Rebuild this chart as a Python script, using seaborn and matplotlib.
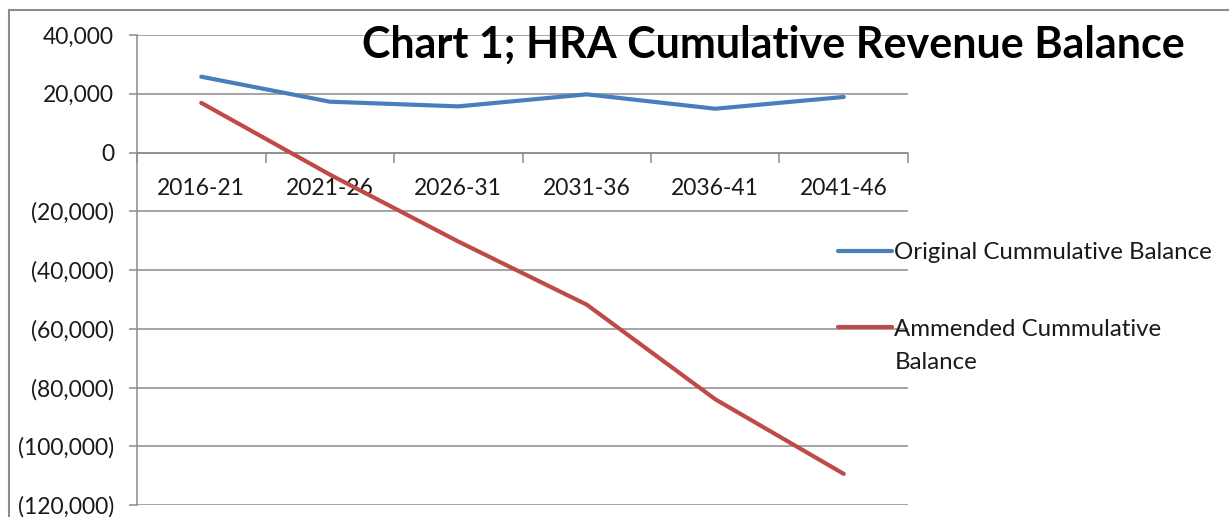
import numpy as np
import pandas as pd
import matplotlib
matplotlib.use("Agg")
import matplotlib.pyplot as plt
import matplotlib.patches as patches
from matplotlib.ticker import FuncFormatter, FixedLocator
import seaborn as sns

# data
periods = ["2016-21", "2021-26", "2026-31", "2031-36", "2036-41", "2041-46"]
original = [25800, 17300, 15700, 19800, 14900, 18900]
amended = [16900, -7500, -30300, -51800, -84000, -109400]
series_names = ["Original Cummulative Balance", "Ammended Cummulative\nBalance"]
yticks = list(range(-120000, 40001, 20000))

df = pd.DataFrame({
    "period": periods * 2,
    "pos": list(range(len(periods))) * 2,
    "value": original + amended,
    "series": [series_names[0]] * len(periods) + [series_names[1]] * len(periods),
})

sns.set_style("white")
plt.rcParams["font.family"] = ["Lato", "DejaVu Sans"]

fig = plt.figure(figsize=(12.29, 5.17), dpi=100)
ax = fig.add_axes([137 / 1229, 1 - 505 / 517, (908 - 137) / 1229, (505 - 35) / 517])

grid_c = "#8c8c8c"
for v in yticks:
    ax.axhline(v, color=grid_c, lw=1.1, zorder=0)

sns.lineplot(data=df, x="pos", y="value", hue="series",
             palette=["#4a7ebb", "#be4b48"], linewidth=3.0, ax=ax,
             legend=True, zorder=3)
for ln in ax.get_lines():
    ln.set_solid_capstyle("round")

ax.set_xlim(-0.5, len(periods) - 0.5)
ax.set_ylim(-120000, 40000)
ax.set_xlabel("")
ax.set_ylabel("")

# y axis
ax.yaxis.set_major_locator(FixedLocator(yticks))
ax.yaxis.set_major_formatter(FuncFormatter(
    lambda v, p: f"{v:,.0f}" if v >= 0 else f"({-v:,.0f})"))
ax.tick_params(axis="y", which="major", length=6, width=1.1, color=grid_c,
               pad=10.5, labelsize=16.5, labelcolor="#1a1a1a", left=True)

# x axis crossing at zero, ticks at category boundaries
for s in ["top", "right"]:
    ax.spines[s].set_visible(False)
ax.spines["left"].set_color(grid_c)
ax.spines["left"].set_linewidth(1.1)
ax.spines["bottom"].set_position(("data", 0))
ax.spines["bottom"].set_color(grid_c)
ax.spines["bottom"].set_linewidth(1.1)
ax.xaxis.set_major_locator(FixedLocator(np.arange(-0.5, len(periods), 1.0)))
ax.xaxis.set_major_formatter(FuncFormatter(lambda v, p: ""))
ax.set_xticks(range(len(periods)), labels=periods, minor=True)
ax.tick_params(axis="x", which="major", length=7, width=1.1, color=grid_c,
               direction="out", bottom=True)
ax.tick_params(axis="x", which="minor", length=0, pad=18, labelsize=16.5,
               labelcolor="#1a1a1a")

# legend
handles, labels = ax.get_legend_handles_labels()
leg = ax.legend(handles, labels, loc="upper left",
                bbox_to_anchor=(838 / 1229, 1 - 242 / 517),
                bbox_transform=fig.transFigure, frameon=False,
                fontsize=17.3, handlelength=2.25, handletextpad=0.1,
                labelspacing=2.35, borderpad=0, borderaxespad=0)
for t in leg.get_texts():
    t.set_color("#1a1a1a")
    t.set_linespacing(1.65)
# put the red key next to the first line of its two-line label
red_key = leg.get_lines()[1]
red_key.set_ydata(np.asarray(red_key.get_ydata()) + 13.9)

# title
fig.text(362 / 1229, 1 - 58 / 517, "Chart 1; HRA Cumulative Revenue Balance",
         ha="left", va="baseline", fontsize=31, fontweight="bold", color="black")

# outer chart border
fig.patches.append(patches.Rectangle((9 / 1229, -0.2), 1.2, 1.2 - 10 / 517,
                                     transform=fig.transFigure, fill=False,
                                     edgecolor="#8c8c8c", lw=1.5, clip_on=False))

fig.savefig("out.png", dpi=100)
